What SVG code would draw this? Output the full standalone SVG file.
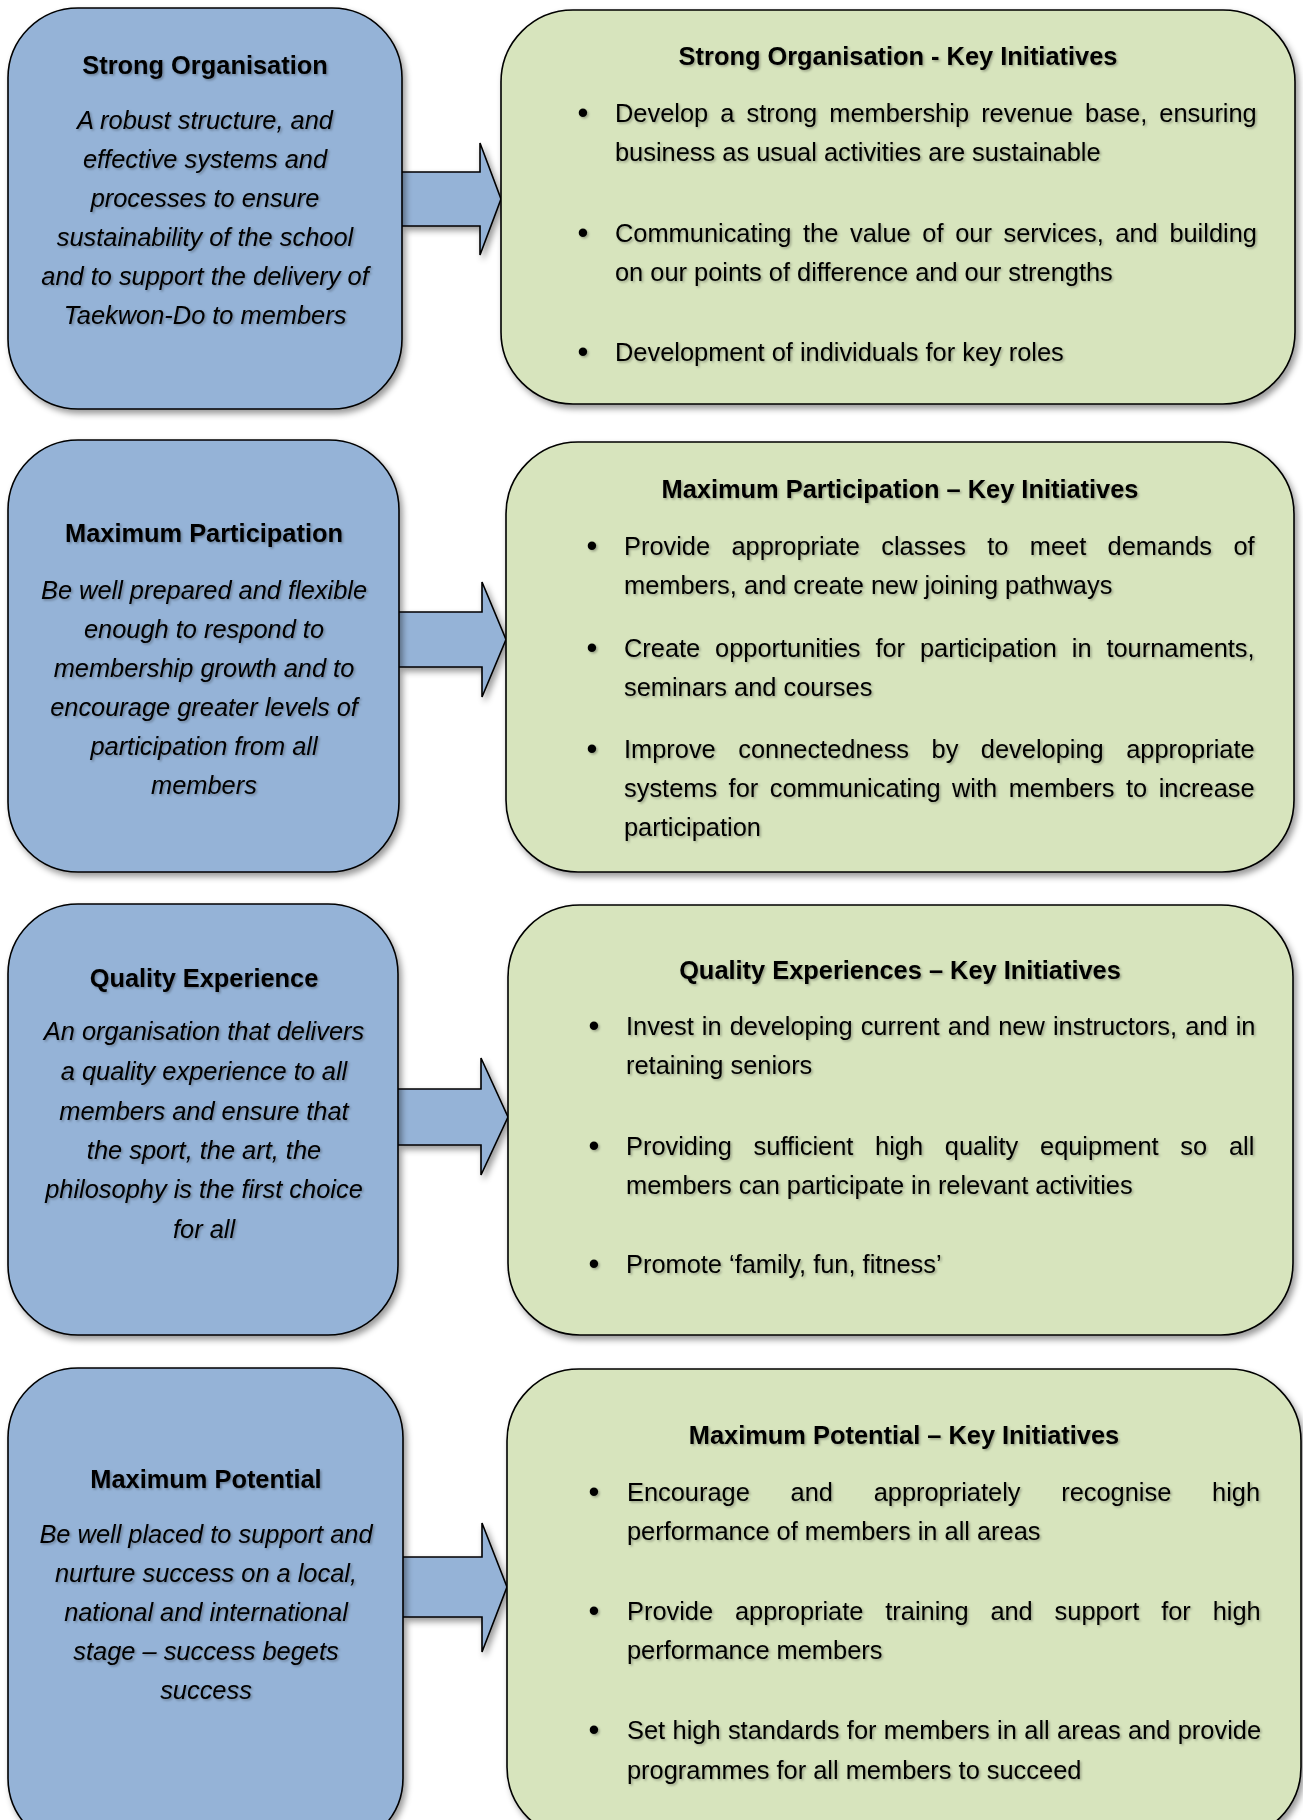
<svg xmlns="http://www.w3.org/2000/svg" width="1303" height="1820" viewBox="0 0 1303 1820">
<defs>
<filter id="boxShadow" x="-10%" y="-10%" width="125%" height="125%">
<feDropShadow dx="3" dy="4" stdDeviation="3" flood-color="#000" flood-opacity="0.4"/>
</filter>
<filter id="txtShadow" x="-5%" y="-20%" width="110%" height="160%">
<feDropShadow dx="1.5" dy="1.5" stdDeviation="0.8" flood-color="#000" flood-opacity="0.3"/>
</filter>
</defs>
<style>
.blue{fill:#95B3D7;stroke:#000;stroke-width:1.6}
.green{fill:#D7E4BD;stroke:#000;stroke-width:1.6}
.arrow{fill:#95B3D7;stroke:#000;stroke-width:1.6;stroke-linejoin:miter}
text{font-family:"Liberation Sans",Arial,sans-serif;font-size:25.4px;fill:#000}
.t{font-weight:bold;text-anchor:middle}
.i{font-style:italic;text-anchor:middle}
.b{text-anchor:middle;font-size:31px}
.txt{filter:url(#txtShadow)}
</style>
<rect width="1303" height="1820" fill="#fff"/>

<g id="connectors" filter="url(#boxShadow)">
<path class="arrow" d="M402,172 H480 V143 L501,199 L480,255 V226 H402"/>
<path class="arrow" d="M399,612 H482 V582 L506,639.5 L482,697 V667 H399"/>
<path class="arrow" d="M398,1089 H481 V1058 L508,1117 L481,1175 V1145 H398"/>
<path class="arrow" d="M403,1557 H482 V1523 L507,1587 L482,1652 V1617 H403"/>
</g>

<g id="strong-organisation">
<rect class="blue" x="8" y="8" width="394" height="401" rx="70" filter="url(#boxShadow)"/>
<g class="txt" transform="translate(0,1.5)">
<text class="t" x="205" y="72">Strong Organisation</text>
<text class="i" x="205" y="127">A robust structure, and</text>
<text class="i" x="205" y="166">effective systems and</text>
<text class="i" x="205" y="205">processes to ensure</text>
<text class="i" x="205" y="244">sustainability of the school</text>
<text class="i" x="205" y="283">and to support the delivery of</text>
<text class="i" x="205" y="322">Taekwon-Do to members</text>
</g>
</g>

<g id="strong-organisation-initiatives">
<rect class="green" x="501" y="10" width="794" height="394" rx="72" filter="url(#boxShadow)"/>
<g class="txt" transform="translate(0,1.5)">
<text class="t" x="898" y="63">Strong Organisation - Key Initiatives</text>
<text class="b" x="583" y="121">•</text>
<text x="615" y="120" word-spacing="5.1">Develop a strong membership revenue base, ensuring</text>
<text x="615" y="159">business as usual activities are sustainable</text>
<text class="b" x="583" y="241">•</text>
<text x="615" y="240" word-spacing="4.6">Communicating the value of our services, and building</text>
<text x="615" y="279">on our points of difference and our strengths</text>
<text class="b" x="583" y="360">•</text>
<text x="615" y="359">Development of individuals for key roles</text>
</g>
</g>

<g id="maximum-participation">
<rect class="blue" x="8" y="440" width="391" height="432" rx="70" filter="url(#boxShadow)"/>
<g class="txt" transform="translate(0,1.5)">
<text class="t" x="204" y="540">Maximum Participation</text>
<text class="i" x="204" y="597">Be well prepared and flexible</text>
<text class="i" x="204" y="636">enough to respond to</text>
<text class="i" x="204" y="675">membership growth and to</text>
<text class="i" x="204" y="714">encourage greater levels of</text>
<text class="i" x="204" y="753">participation from all</text>
<text class="i" x="204" y="792">members</text>
</g>
</g>

<g id="maximum-participation-initiatives">
<rect class="green" x="506" y="442" width="788" height="430" rx="72" filter="url(#boxShadow)"/>
<g class="txt" transform="translate(0,1.5)">
<text class="t" x="900" y="496">Maximum Participation – Key Initiatives</text>
<text class="b" x="592" y="554">•</text>
<text x="624" y="553" word-spacing="14.3">Provide appropriate classes to meet demands of</text>
<text x="624" y="592">members, and create new joining pathways</text>
<text class="b" x="592" y="656">•</text>
<text x="624" y="655" word-spacing="7.85">Create opportunities for participation in tournaments,</text>
<text x="624" y="694">seminars and courses</text>
<text class="b" x="592" y="757">•</text>
<text x="624" y="756" word-spacing="15.45">Improve connectedness by developing appropriate</text>
<text x="624" y="795" word-spacing="4.45">systems for communicating with members to increase</text>
<text x="624" y="834">participation</text>
</g>
</g>

<g id="quality-experience">
<rect class="blue" x="8" y="904" width="390" height="431" rx="70" filter="url(#boxShadow)"/>
<g class="txt" transform="translate(0,1.5)">
<text class="t" x="204" y="985">Quality Experience</text>
<text class="i" x="204" y="1038">An organisation that delivers</text>
<text class="i" x="204" y="1078">a quality experience to all</text>
<text class="i" x="204" y="1118">members and ensure that</text>
<text class="i" x="204" y="1157">the sport, the art, the</text>
<text class="i" x="204" y="1196">philosophy is the first choice</text>
<text class="i" x="204" y="1236">for all</text>
</g>
</g>

<g id="quality-experience-initiatives">
<rect class="green" x="508" y="905" width="785" height="430" rx="72" filter="url(#boxShadow)"/>
<g class="txt" transform="translate(0,1.5)">
<text class="t" x="900" y="977">Quality Experiences – Key Initiatives</text>
<text class="b" x="594" y="1034">•</text>
<text x="626" y="1033" word-spacing="1.05">Invest in developing current and new instructors, and in</text>
<text x="626" y="1072">retaining seniors</text>
<text class="b" x="594" y="1154">•</text>
<text x="626" y="1153" word-spacing="14.7">Providing sufficient high quality equipment so all</text>
<text x="626" y="1192">members can participate in relevant activities</text>
<text class="b" x="594" y="1272">•</text>
<text x="626" y="1271">Promote ‘family, fun, fitness’</text>
</g>
</g>

<g id="maximum-potential">
<rect class="blue" x="8" y="1368" width="395" height="480" rx="70" filter="url(#boxShadow)"/>
<g class="txt" transform="translate(0,1.5)">
<text class="t" x="206" y="1486">Maximum Potential</text>
<text class="i" x="206" y="1541">Be well placed to support and</text>
<text class="i" x="206" y="1580">nurture success on a local,</text>
<text class="i" x="206" y="1619">national and international</text>
<text class="i" x="206" y="1658">stage – success begets</text>
<text class="i" x="206" y="1697">success</text>
</g>
</g>

<g id="maximum-potential-initiatives">
<rect class="green" x="507" y="1369" width="794" height="470" rx="72" filter="url(#boxShadow)"/>
<g class="txt" transform="translate(0,1.5)">
<text class="t" x="904" y="1442">Maximum Potential – Key Initiatives</text>
<text class="b" x="594" y="1500">•</text>
<text x="627" y="1499" word-spacing="33.7">Encourage and appropriately recognise high</text>
<text x="627" y="1538">performance of members in all areas</text>
<text class="b" x="594" y="1619">•</text>
<text x="627" y="1618" word-spacing="14.8">Provide appropriate training and support for high</text>
<text x="627" y="1657">performance members</text>
<text class="b" x="594" y="1738">•</text>
<text x="627" y="1737" word-spacing="0.35">Set high standards for members in all areas and provide</text>
<text x="627" y="1777">programmes for all members to succeed</text>
</g>
</g>
</svg>
